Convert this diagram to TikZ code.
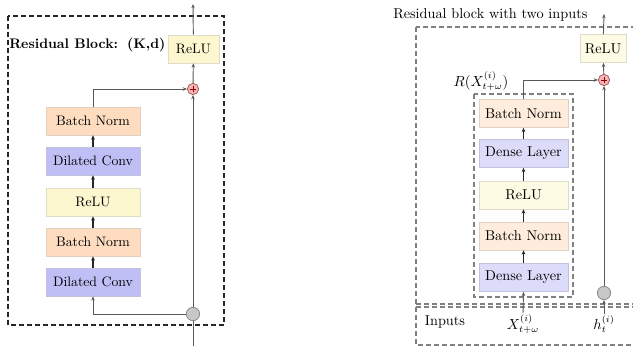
\documentclass[tikz,border=0pt]{standalone}
\usetikzlibrary{arrows.meta}
\begin{document}
\begin{tikzpicture}[x=0.75pt,y=-0.75pt,
  blk/.style={draw=#1!80!black!60, line width=0.5pt, minimum width=70.5pt, minimum height=21pt, inner sep=0pt},
  bnL/.style={blk=bnc, fill=bnc, font=\fontsize{10.3}{12}\selectfont},
  dcL/.style={blk=dcc, fill=dcc, font=\fontsize{10.3}{12}\selectfont},
  reL/.style={blk=rec, fill=rec, font=\fontsize{10.3}{12}\selectfont},
  bnR/.style={blk=bnc, fill=bnc!55, minimum width=66.75pt, font=\fontsize{10.7}{12}\selectfont},
  dcR/.style={blk=dcc, fill=dcc!55, minimum width=66.75pt, font=\fontsize{10.7}{12}\selectfont},
  reR/.style={blk=rec, fill=rec!55, minimum width=66.75pt, font=\fontsize{10.7}{12}\selectfont},
  plusnode/.style={circle, draw=red!45!black!70, fill=pinkc, line width=0.5pt, minimum size=8.5pt, inner sep=0pt},
  splitnode/.style={circle, draw=black!50, fill=black!22, line width=0.5pt, minimum size=10pt, inner sep=0pt},
  flow/.style={draw=black!65, line width=0.7pt, -{Stealth[length=3.2pt,width=2.6pt]}},
  link/.style={draw=black!85, line width=0.9pt, -{Stealth[length=3.2pt,width=2.8pt]}},
  plain/.style={draw=black!65, line width=0.7pt},
]
\definecolor{bnc}{HTML}{FDDCC0}
\definecolor{dcc}{HTML}{BFBFF6}
\definecolor{rec}{HTML}{FDF7CF}
\definecolor{pinkc}{HTML}{F6B4B4}
\useasboundingbox (0,0) rectangle (633,349);
\clip (0,0) rectangle (633,349);

% ---------- residual block (K,d) ----------
\draw[black!85, line width=1.1pt, dash pattern=on 3.5pt off 2.5pt] (8,16) rectangle (224,325);
\node[font=\fontsize{10.4}{12}\bfseries, anchor=west, inner sep=0pt] (ltitle) at (9,45) {Residual Block:\hspace{1.5pt} (K,d)};

\node[dcL] (ldc1) at (93,282) {Dilated Conv};
\node[bnL] (lbn1) at (93,242) {Batch Norm};
\node[reL] (lrelu) at (93,202) {ReLU};
\node[dcL] (ldc2) at (93,161) {Dilated Conv};
\node[bnL] (lbn2) at (93,121) {Batch Norm};
\node[reL, minimum width=38pt] (lreluout) at (193.5,49) {ReLU};
\node[plusnode] (lplus) at (193,89) {};
\draw[red!55!black, line width=0.6pt] ([xshift=-2.6pt]lplus.center) -- ([xshift=2.6pt]lplus.center)
  ([yshift=-2.6pt]lplus.center) -- ([yshift=2.6pt]lplus.center);
\node[splitnode] (lsplit) at (193,314) {};
\coordinate (lin) at (193,346);
\coordinate (lout) at (193,4);

\draw[plain] (lin) -- (lsplit);
\draw[flow] (lsplit) -- (lplus);
\draw[flow] (lplus) -- (lreluout);
\draw[flow] (lreluout) -- (lout);
\draw[flow] (lsplit.west) -| (ldc1.south);
\draw[link] (ldc1) -- (lbn1);
\draw[link] (lbn1) -- (lrelu);
\draw[link] (lrelu) -- (ldc2);
\draw[link] (ldc2) -- (lbn2);
\draw[flow] (lbn2.north) |- (lplus.west);

% ---------- residual block with two inputs ----------
\node[anchor=west, inner sep=0pt, font=\fontsize{10.7}{12}\selectfont] (rtitle) at (393,15) {Residual block with two inputs};
\draw[black!50, line width=0.9pt, dash pattern=on 3.5pt off 2.5pt] (416,27) rectangle (640,345);
\draw[black!50, line width=0.9pt, dash pattern=on 3.5pt off 2.5pt] (416,304) -- (640,304);
\draw[black!50, line width=0.9pt, dash pattern=on 3.5pt off 2.5pt] (416,307) -- (640,307);
\draw[black!50, line width=0.9pt, dash pattern=on 3.5pt off 2.5pt] (474,94) rectangle (573,297);
\node[anchor=south, font=\fontsize{10.7}{12}\selectfont] (rlabel) at (481,95) {$R(X^{(i)}_{t+\omega})$};

\node[dcR] (rdl1) at (523.5,277.5) {Dense Layer};
\node[bnR] (rbn1) at (523.5,236) {Batch Norm};
\node[reR] (rrelu) at (523.5,195) {ReLU};
\node[dcR] (rdl2) at (523.5,153.5) {Dense Layer};
\node[bnR] (rbn2) at (523.5,113.5) {Batch Norm};
\node[reR, minimum width=34.5pt] (rreluout) at (603,48.5) {ReLU};
\node[plusnode] (rplus) at (604,80) {};
\draw[red!55!black, line width=0.6pt] ([xshift=-2.6pt]rplus.center) -- ([xshift=2.6pt]rplus.center)
  ([yshift=-2.6pt]rplus.center) -- ([yshift=2.6pt]rplus.center);
\node[splitnode] (rsplit) at (604,293) {};
\coordinate (rout) at (604,14);

\node[inner sep=1pt, font=\fontsize{10.7}{12}\selectfont] (inputs) at (445,322) {Inputs};
\node[inner sep=1pt, font=\fontsize{10.7}{12}\selectfont] (xin) at (523,324) {$X^{(i)}_{t+\omega}$};
\node[inner sep=1pt, font=\fontsize{10.7}{12}\selectfont] (hin) at (604,324) {$h^{(i)}_{t}$};

\draw[flow] (xin.north) -- (rdl1.south);
\draw[flow] (hin.north) -- (rsplit.south);
\draw[flow] (rsplit) -- (rplus);
\draw[flow] (rplus) -- (rreluout);
\draw[flow] (rreluout) -- (rout);
\draw[link] (rdl1) -- (rbn1);
\draw[link] (rbn1) -- (rrelu);
\draw[link] (rrelu) -- (rdl2);
\draw[link] (rdl2) -- (rbn2);
\draw[flow] (rbn2.north) |- (rplus.west);
\end{tikzpicture}
\end{document}
